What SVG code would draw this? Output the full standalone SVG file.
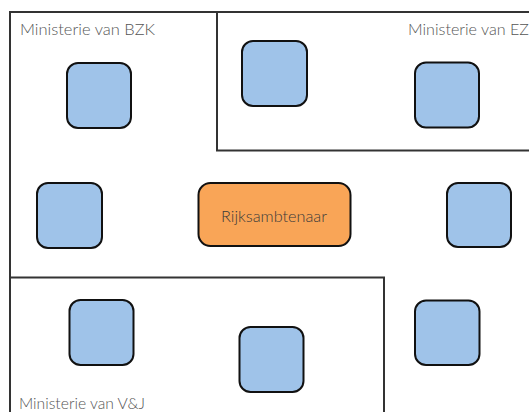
<svg xmlns="http://www.w3.org/2000/svg" width="529" height="412" viewBox="0 0 529 412">
<style>
.box{fill:none;stroke:#333;stroke-width:2}
.sq{fill:#9fc3e9;stroke:#111;stroke-width:2}
.or{fill:#f9a557;stroke:#111;stroke-width:2}
.lbl{font-family:Lato,"Liberation Sans",sans-serif;font-size:16px;font-weight:300;fill:#555}
.nl{font-family:Lato,"Liberation Sans",sans-serif;font-size:16px;font-weight:300;fill:#3a3a3a}
</style>
<rect width="529" height="412" fill="#fff"/>
<g id="ministerie-bzk">
<rect class="box" x="10" y="12" width="540" height="420"/>
<text class="lbl" x="20" y="35" textLength="135" lengthAdjust="spacingAndGlyphs">Ministerie van BZK</text>
</g>
<g id="ministerie-ez">
<rect class="box" x="217" y="12" width="330" height="138.5"/>
<text class="lbl" x="408" y="35" textLength="121" lengthAdjust="spacingAndGlyphs">Ministerie van EZ</text>
</g>
<g id="ministerie-vj">
<rect class="box" x="10" y="277.5" width="374" height="150"/>
<text class="lbl" x="19" y="409" textLength="126" lengthAdjust="spacingAndGlyphs">Ministerie van V&amp;J</text>
</g>
<g id="node-bzk"><rect class="sq" x="67" y="63" width="64" height="65" rx="11"/></g>
<g id="node-ez1"><rect class="sq" x="242" y="41" width="65" height="65" rx="11"/></g>
<g id="node-ez2"><rect class="sq" x="415" y="62.5" width="64" height="65" rx="11"/></g>
<g id="node-mid-left"><rect class="sq" x="37" y="183" width="65" height="65" rx="11"/></g>
<g id="node-mid-right"><rect class="sq" x="447" y="183" width="64" height="64" rx="11"/></g>
<g id="node-rijksambtenaar">
<rect class="or" x="198.5" y="183" width="152" height="63" rx="12"/>
<text class="nl" x="274" y="222" text-anchor="middle" textLength="106" lengthAdjust="spacingAndGlyphs">Rijksambtenaar</text>
</g>
<g id="node-vj1"><rect class="sq" x="69.5" y="300" width="64" height="65" rx="11"/></g>
<g id="node-vj2"><rect class="sq" x="239.5" y="327" width="64" height="65" rx="11"/></g>
<g id="node-bottom-right"><rect class="sq" x="415" y="300.5" width="64.5" height="64.5" rx="11"/></g>
<g id="connectors"></g>
</svg>
